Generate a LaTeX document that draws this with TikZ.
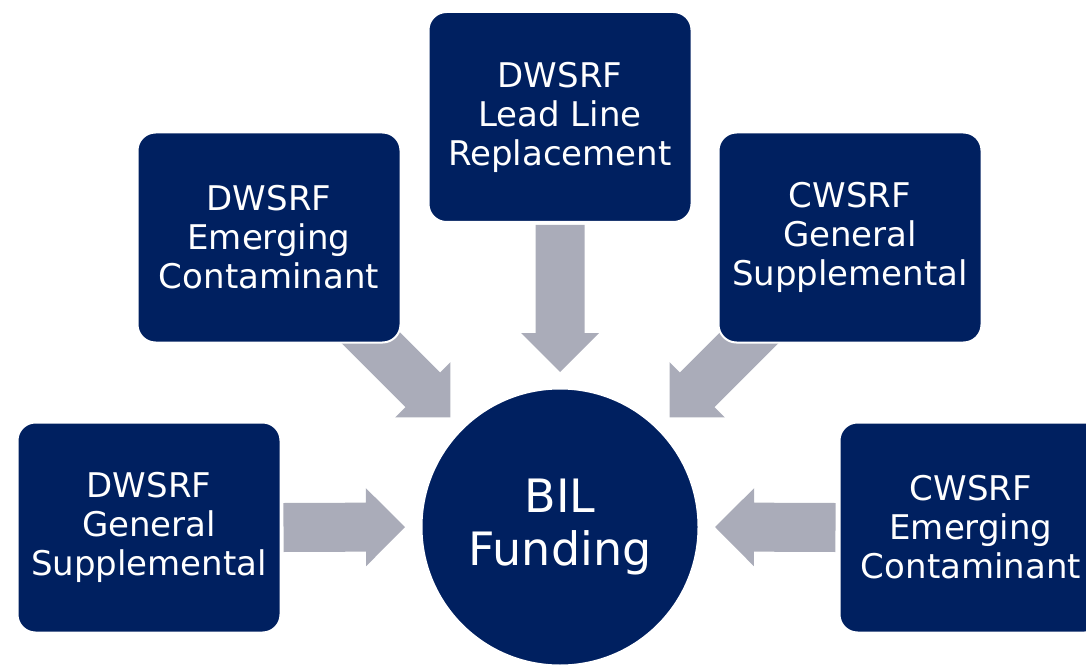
\documentclass[tikz,border=0pt]{standalone}
\usepackage{fontspec}
\setmainfont{DejaVu Sans}
\usetikzlibrary{calc,backgrounds}
\definecolor{bilnavy}{HTML}{002060}
\definecolor{feedgray}{HTML}{AAACB9}

\begin{document}
\begin{tikzpicture}[x=1pt, y=1pt,
    fund/.style={rectangle, rounded corners=18pt, fill=bilnavy, draw=white,
      line width=2pt, minimum width=263pt, minimum height=210pt,
      text=white, align=center, font=\fontsize{34}{39}\selectfont},
    hub/.style={circle, fill=bilnavy, draw=white, line width=2pt,
      minimum size=277pt, text=white, align=center,
      font=\fontsize{46}{53}\selectfont},
    feed/.style={fill=feedgray, to path={
      let \p1=(\tikztostart), \p2=(\tikztotarget),
          \n1={atan2(\y2-\y1,\x2-\x1)}, \n2={veclen(\x2-\x1,\y2-\y1)} in
      {[shift={(\p1)}, rotate=\n1]
        (0,-24.5) -- (\n2-39,-24.5) -- (\n2-39,-39) -- (\n2,0)
        -- (\n2-39,39) -- (\n2-39,24.5) -- (0,24.5) -- cycle}}}
    ]
    \useasboundingbox (0,0) rectangle (1086,665);

    \node[hub] (bil) at (560,138) {BIL\\Funding};
    \node[fund] (lead) at (560,548) {DWSRF\\Lead Line\\Replacement};
    \node[fund] (dwemer) at (269,427.5) {DWSRF\\Emerging\\Contaminant};
    \node[fund] (cwgen) at (850,427.5) {CWSRF\\General\\Supplemental};
    \node[fund] (dwgen) at (149,137.5) {DWSRF\\General\\Supplemental};
    \node[fund] (cwemer) at (971,137.5) {CWSRF\\Emerging\\Contaminant};

    % arrow tips round the hub
    \coordinate (inN) at ($(bil.center)+(90:155)$);
    \coordinate (inNW) at ($(bil.center)+(135:155)$);
    \coordinate (inNE) at ($(bil.center)+(45:155)$);
    \coordinate (inW) at ($(bil.center)+(180:155)$);
    \coordinate (inE) at ($(bil.center)+(0:155)$);

    \begin{scope}[on background layer]
      \path[feed] ($(lead.south)+(0,-2)$) to (inN);
      \path[feed] ($(inNW)+(-105,105)$) to (inNW);
      \path[feed] ($(inNE)+(105,105)$) to (inNE);
      \path[feed] ($(dwgen.east)+(2,0)$) to (inW);
      \path[feed] ($(cwemer.west)+(-3,0)$) to (inE);
    \end{scope}
\end{tikzpicture}
\end{document}
